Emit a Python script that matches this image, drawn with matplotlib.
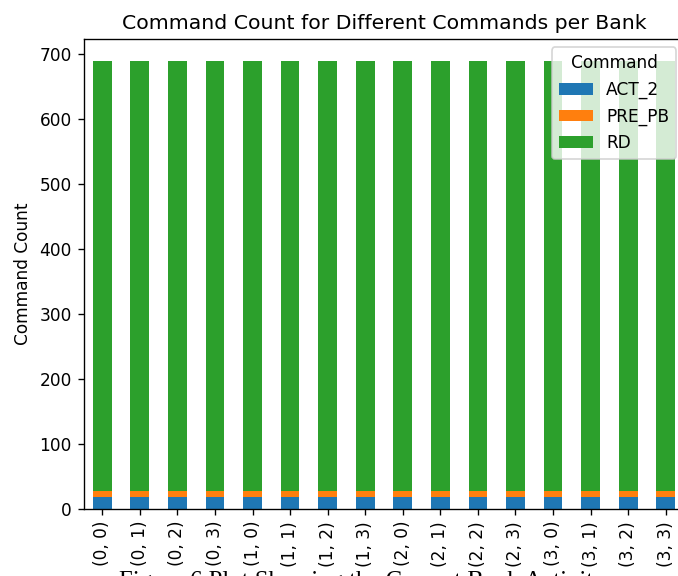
import pandas as pd
import matplotlib
matplotlib.use("Agg")
import matplotlib.pyplot as plt

# command counts per (bank group, bank)
banks = [(g, b) for g in range(4) for b in range(4)]
act_2 = [18] * 16
pre_pb = [10] * 16
rd = [660] * 16

df = pd.DataFrame({"ACT_2": act_2, "PRE_PB": pre_pb, "RD": rd},
                  index=pd.MultiIndex.from_tuples(banks))

DPI = 122
W, H = 678, 576
fig = plt.figure(figsize=(W / DPI, H / DPI), dpi=DPI)
ax = fig.add_axes([83.5 / W, 67 / H, 601 / W, 470 / H])

df.plot(kind="bar", stacked=True, ax=ax,
        color=["#1f77b4", "#ff7f0e", "#2ca02c"])
ax.set_xticklabels([str(b) for b in banks], rotation=90)
ax.set_xlabel("")
ax.set_ylabel("Command Count")
ax.set_title("Command Count for Different Commands per Bank")
ax.set_ylim(0, 722.4)
ax.legend(title="Command", loc="upper right")

# figure caption, running off the bottom edge
cap_size = 14.6
cap_px = cap_size * DPI / 72
fig.text(119 / W, (4 - 0.662 * cap_px) / H,
         "Figure 6 Plot Showing the Current Bank Activity",
         family="Liberation Serif", fontsize=cap_size, va="baseline", ha="left")

fig.savefig("out.png", dpi=DPI)
